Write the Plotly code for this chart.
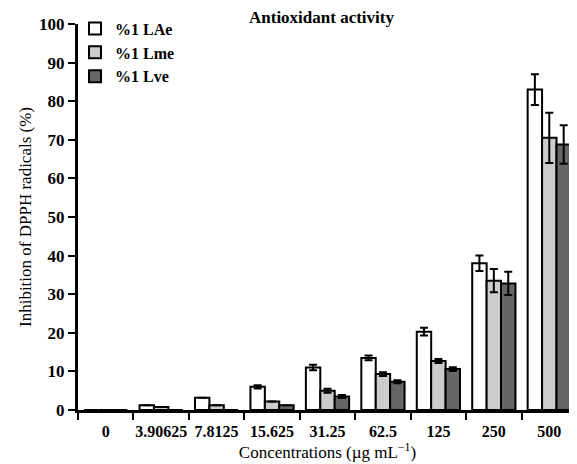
import plotly.graph_objects as go

categories = ["0", "3.90625", "7.8125", "15.625", "31.25", "62.5", "125", "250", "500"]
lae = [0, 1.2, 3.2, 6.0, 11.0, 13.5, 20.3, 38.0, 83.0]
lme = [0, 0.8, 1.2, 2.2, 5.0, 9.3, 12.7, 33.5, 70.5]
lve = [0, 0.0, 0.0, 1.2, 3.5, 7.3, 10.6, 32.8, 68.8]
lae_err = [0, 0, 0, 0.4, 0.7, 0.6, 1.0, 2.0, 4.0]
lme_err = [0, 0, 0, 0, 0.5, 0.5, 0.5, 3.0, 6.5]
lve_err = [0, 0, 0, 0, 0.4, 0.4, 0.5, 3.0, 5.0]
series_names = ["%1 LAe", "%1 Lme", "%1 Lve"]
colors = ["#ffffff", "#cccccc", "#666666"]

FONT = "Liberation Serif, Times New Roman, serif"
fig = go.Figure()
for name, vals, errs, col in zip(series_names, [lae, lme, lve], [lae_err, lme_err, lve_err], colors):
    fig.add_trace(go.Bar(
        x=categories, y=vals, name=name,
        marker=dict(color=col, line=dict(color="black", width=2)),
        error_y=dict(type="data", array=errs, visible=True, color="black", thickness=2, width=4),
    ))

# page body has an 8px margin, so the figure is sized to fill the rest of the window
fig.update_layout(
    width=569, height=456,
    margin=dict(l=70, r=0, t=16, b=54, autoexpand=False),
    paper_bgcolor="white", plot_bgcolor="white",
    barmode="group", bargap=0.22, bargroupgap=0,
    font=dict(family=FONT, color="black", size=16),
    showlegend=True,
    legend=dict(x=-0.006, y=1.032, xanchor="left", yanchor="top", bgcolor="rgba(0,0,0,0)",
                font=dict(family=FONT, size=16, weight="bold"), tracegroupgap=0, itemwidth=30),
    annotations=[dict(text="<b>Antioxidant activity</b>", x=0.487, y=1.018, xref="paper", yref="paper",
                      xanchor="center", yanchor="middle", showarrow=False,
                      font=dict(family=FONT, size=17, color="black"))],
)
fig.update_xaxes(
    type="category", tickson="boundaries", ticks="outside", ticklen=7, tickwidth=2, tickcolor="black",
    showline=True, linecolor="black", linewidth=3, showgrid=False, zeroline=False,
    tickangle=0, automargin=False, ticklabelstandoff=5,
    tickfont=dict(family=FONT, size=16, weight="bold"),
    title=dict(text="Concentrations (µg mL<sup>−1</sup>)", font=dict(family=FONT, size=17), standoff=4),
)
fig.update_yaxes(
    range=[0, 100], tickvals=list(range(0, 101, 10)), ticks="outside", ticklen=7, tickwidth=2,
    tickcolor="black", showline=True, linecolor="black", linewidth=3, showgrid=False, zeroline=False,
    automargin=False,
    tickfont=dict(family=FONT, size=17, weight="bold"),
    title=dict(text="Inhibition of DPPH radicals (%)", font=dict(family=FONT, size=17), standoff=4),
)
fig.write_html("out.html")
